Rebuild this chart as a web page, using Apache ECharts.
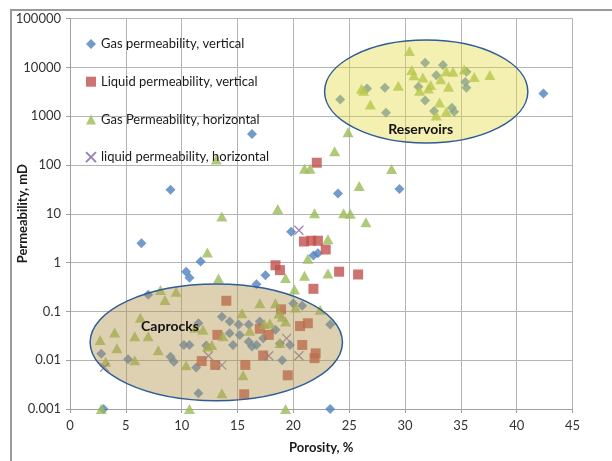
<!DOCTYPE html>
<html>
<head>
<meta charset="utf-8">
<script src="https://cdn.jsdelivr.net/npm/echarts@6/dist/echarts.min.js"></script>
<style>
html,body{margin:0;padding:0;background:#fff;}
#chart{width:612px;height:461px;}
</style>
</head>
<body>
<div id="chart"></div>
<script>
// ---- Data (porosity %, permeability mD) ----
const seriesNames = ['Gas permeability, vertical', 'Liquid permeability, vertical', 'Gas Permeability, horizontal', 'liquid permeability, horizontal'];
const xTickLabels = ['0','5','10','15','20','25','30','35','40','45'];
const yTickLabels = ['0.001','0.01','0.1','1','10','100','1000','10000','100000'];

const gasVertical = [
  [24.2, 2200], [26.6, 3700], [28.2, 3800], [28.3, 1170], [31.2, 4000], [31.8, 12400], [33.4, 11100],
  [32.8, 6900], [35.5, 8100], [35.4, 5000], [35.5, 3800], [31.8, 2100], [32.6, 1270], [34.2, 1480],
  [34.4, 1230], [42.4, 2900],
  [16.3, 430], [24.0, 26], [29.5, 32], [9.0, 31], [6.4, 2.5], [19.8, 4.3], [21.8, 1.4], [22.2, 1.55],
  [17.5, 0.55], [11.7, 1.05], [10.4, 0.65], [10.7, 0.49], [16.7, 0.36], [7.0, 0.22], [3.0, 0.001], [23.3, 0.001],
  [20.0, 0.145], [20.8, 0.13],
  [2.8, 0.0135], [5.2, 0.0104], [9.0, 0.0117], [9.3, 0.0093], [10.2, 0.0205], [10.7, 0.0205], [11.3, 0.0071],
  [11.5, 0.0021], [11.5, 0.057], [13.6, 0.078], [14.3, 0.062], [15.1, 0.054], [16.0, 0.054], [17.0, 0.062],
  [14.3, 0.0355], [15.2, 0.033], [14.6, 0.0205], [16.0, 0.024], [16.3, 0.019], [16.7, 0.0205], [17.3, 0.028],
  [18.4, 0.042], [19.0, 0.01], [19.7, 0.0205], [23.3, 0.054], [12.2, 0.02], [18.8, 0.022]
];
const liquidVertical = [
  [22.1, 111], [20.95, 2.7], [21.6, 2.8], [22.2, 2.8], [22.9, 1.85], [24.1, 0.65], [25.8, 0.57], [21.8, 0.29],
  [18.4, 0.88], [18.8, 0.7],
  [14.0, 0.165], [18.9, 0.11], [13.2, 0.033], [11.8, 0.0096], [13.0, 0.008], [15.7, 0.008], [17.0, 0.044],
  [17.8, 0.033], [20.6, 0.05], [21.3, 0.057], [20.8, 0.0205], [22.0, 0.0138], [21.9, 0.011], [17.3, 0.0125],
  [19.5, 0.0049], [15.6, 0.002]
];
const gasHorizontal = [
  [30.4, 21600], [30.6, 8800], [30.8, 6900], [31.6, 6200], [33.7, 8300], [34.3, 8100], [35.3, 9000],
  [36.2, 6300], [37.6, 6950], [33.2, 5700], [32.3, 4350], [32.1, 3700], [33.9, 4000], [31.3, 3300],
  [26.1, 3650], [26.3, 3300], [29.4, 4170], [26.9, 1740], [33.1, 1900], [33.7, 1230], [32.8, 1030],
  [13.1, 130], [21.0, 84], [21.5, 84], [23.7, 190], [24.9, 470], [28.8, 83], [25.9, 37], [18.6, 12.5],
  [21.9, 10.2], [24.5, 10.2], [25.1, 10], [26.5, 6.7], [13.6, 8.8], [23.1, 3.0], [21.3, 1.2], [12.3, 1.6],
  [19.3, 0.48], [20.1, 0.28], [21.0, 0.54], [23.1, 0.6], [13.3, 0.47],
  [8.1, 0.275], [9.5, 0.253], [8.5, 0.171], [6.3, 0.074], [4.0, 0.037], [2.7, 0.026], [5.8, 0.031],
  [7.0, 0.031], [4.2, 0.0175], [7.9, 0.016], [3.2, 0.0093], [5.8, 0.01], [10.4, 0.0079], [11.2, 0.046],
  [11.9, 0.042], [12.3, 0.019], [2.8, 0.001], [10.7, 0.001], [19.3, 0.001], [13.6, 0.0021], [15.5, 0.0049],
  [13.7, 0.031], [12.7, 0.0205],
  [15.4, 0.091], [16.1, 0.04], [17.4, 0.055], [17.9, 0.057], [18.7, 0.09], [19.0, 0.078], [19.3, 0.062],
  [18.8, 0.0225], [17.0, 0.146], [18.4, 0.146], [20.2, 0.12], [22.4, 0.108]
];
const liquidHorizontal = [
  [20.5, 4.6], [3.1, 0.0072], [12.4, 0.0123], [13.6, 0.0079], [17.8, 0.0123], [19.4, 0.028], [20.5, 0.0123]
];

// Annotation ellipses in data units: [xMin, xMax, yMin, yMax]
const reservoirBox = [22.8, 41.0, 281, 36300];
const caprockBox = [1.8, 24.4, 0.00148, 0.363];
const reservoirLabelAt = [31.4, 545];
const caprockLabelAt = [8.95, 0.0485];

const FONT = 'Lato, "Open Sans", sans-serif';
const chart = echarts.init(document.getElementById('chart'), null, {renderer: 'canvas'});

const crossPath = 'path://M0,0L10,10M10,0L0,10';

chart.setOption({
  animation: false,
  backgroundColor: '#ffffff',
  grid: {left: 70, right: 39.5, top: 18.5, bottom: 52, containLabel: false, outerBoundsMode: 'none'},
  legend: {
    orient: 'vertical', left: 85, top: 37, padding: 0, itemGap: 23.7, itemWidth: 10, itemHeight: 10,
    textStyle: {fontFamily: FONT, fontSize: 13, color: '#1a1a1a', lineHeight: 14},
    data: seriesNames
  },
  xAxis: {
    type: 'value', min: 0, max: 45, interval: 5,
    name: 'Porosity, %', nameLocation: 'middle', nameGap: 32, nameMoveOverlap: false,
    nameTextStyle: {fontFamily: FONT, fontSize: 13, fontWeight: 'bold', color: '#1a1a1a'},
    axisLine: {show: true, lineStyle: {color: '#a0a0a0', width: 1}},
    axisTick: {show: true, length: 4, lineStyle: {color: '#a0a0a0'}},
    axisLabel: {fontFamily: FONT, fontSize: 13, color: '#333', margin: 10,
      formatter: (v) => xTickLabels[Math.round(v / 5)]},
    splitLine: {show: true, lineStyle: {color: '#b4b4b4', width: 1}}
  },
  yAxis: {
    type: 'log', logBase: 10, min: 0.001, max: 100000,
    name: 'Permeability, mD', nameLocation: 'middle', nameGap: 41, nameMoveOverlap: false,
    nameTextStyle: {fontFamily: FONT, fontSize: 13, fontWeight: 'bold', color: '#1a1a1a'},
    axisLine: {show: true, lineStyle: {color: '#a0a0a0', width: 1}},
    axisTick: {show: true, length: 4, lineStyle: {color: '#a0a0a0'}},
    axisLabel: {fontFamily: FONT, fontSize: 13, color: '#333', margin: 9,
      formatter: (v) => yTickLabels[Math.round(Math.log10(v)) + 3]},
    splitLine: {show: true, lineStyle: {color: '#b4b4b4', width: 1}},
    minorTick: {show: false}
  },
  series: [
    {name: seriesNames[0], type: 'scatter', data: gasVertical, symbol: 'diamond', symbolSize: 10,
      itemStyle: {color: '#4F81BD'}},
    {name: seriesNames[1], type: 'scatter', data: liquidVertical, symbol: 'rect', symbolSize: 10,
      itemStyle: {color: '#C0504D'}},
    {name: seriesNames[2], type: 'scatter', data: gasHorizontal, symbol: 'triangle', symbolSize: [11, 10],
      itemStyle: {color: '#9BBB59'}},
    {name: seriesNames[3], type: 'scatter', data: liquidHorizontal, symbol: crossPath, symbolSize: 9,
      itemStyle: {color: 'transparent', borderColor: '#8064A2', borderWidth: 1.2}}
  ]
});

function ellipseFromBox(box, fill) {
  const p1 = chart.convertToPixel({gridIndex: 0}, [box[0], box[3]]);
  const p2 = chart.convertToPixel({gridIndex: 0}, [box[1], box[2]]);
  return {
    type: 'ellipse', z: 50,
    shape: {cx: (p1[0] + p2[0]) / 2, cy: (p1[1] + p2[1]) / 2, rx: (p2[0] - p1[0]) / 2, ry: (p2[1] - p1[1]) / 2},
    style: {fill: fill, stroke: '#2F5C96', lineWidth: 1.5}
  };
}
function labelAt(pt, text) {
  const p = chart.convertToPixel({gridIndex: 0}, pt);
  return {
    type: 'text', z: 60, x: p[0], y: p[1],
    style: {text: text, fontFamily: FONT, fontSize: 14, fontWeight: 'bold', fill: '#111',
      align: 'center', verticalAlign: 'middle'}
  };
}

chart.setOption({
  graphic: [
    ellipseFromBox(reservoirBox, 'rgba(228, 218, 60, 0.40)'),
    ellipseFromBox(caprockBox, 'rgba(180, 150, 80, 0.44)'),
    labelAt(reservoirLabelAt, 'Reservoirs'),
    labelAt(caprockLabelAt, 'Caprocks'),
    {type: 'line', z: 60, shape: {x1: 10, y1: 10, x2: 612, y2: 10}, style: {stroke: '#9a9a9a', lineWidth: 2}},
    {type: 'line', z: 60, shape: {x1: 11, y1: 10, x2: 11, y2: 461}, style: {stroke: '#9a9a9a', lineWidth: 2}}
  ]
});
</script>
</body>
</html>
